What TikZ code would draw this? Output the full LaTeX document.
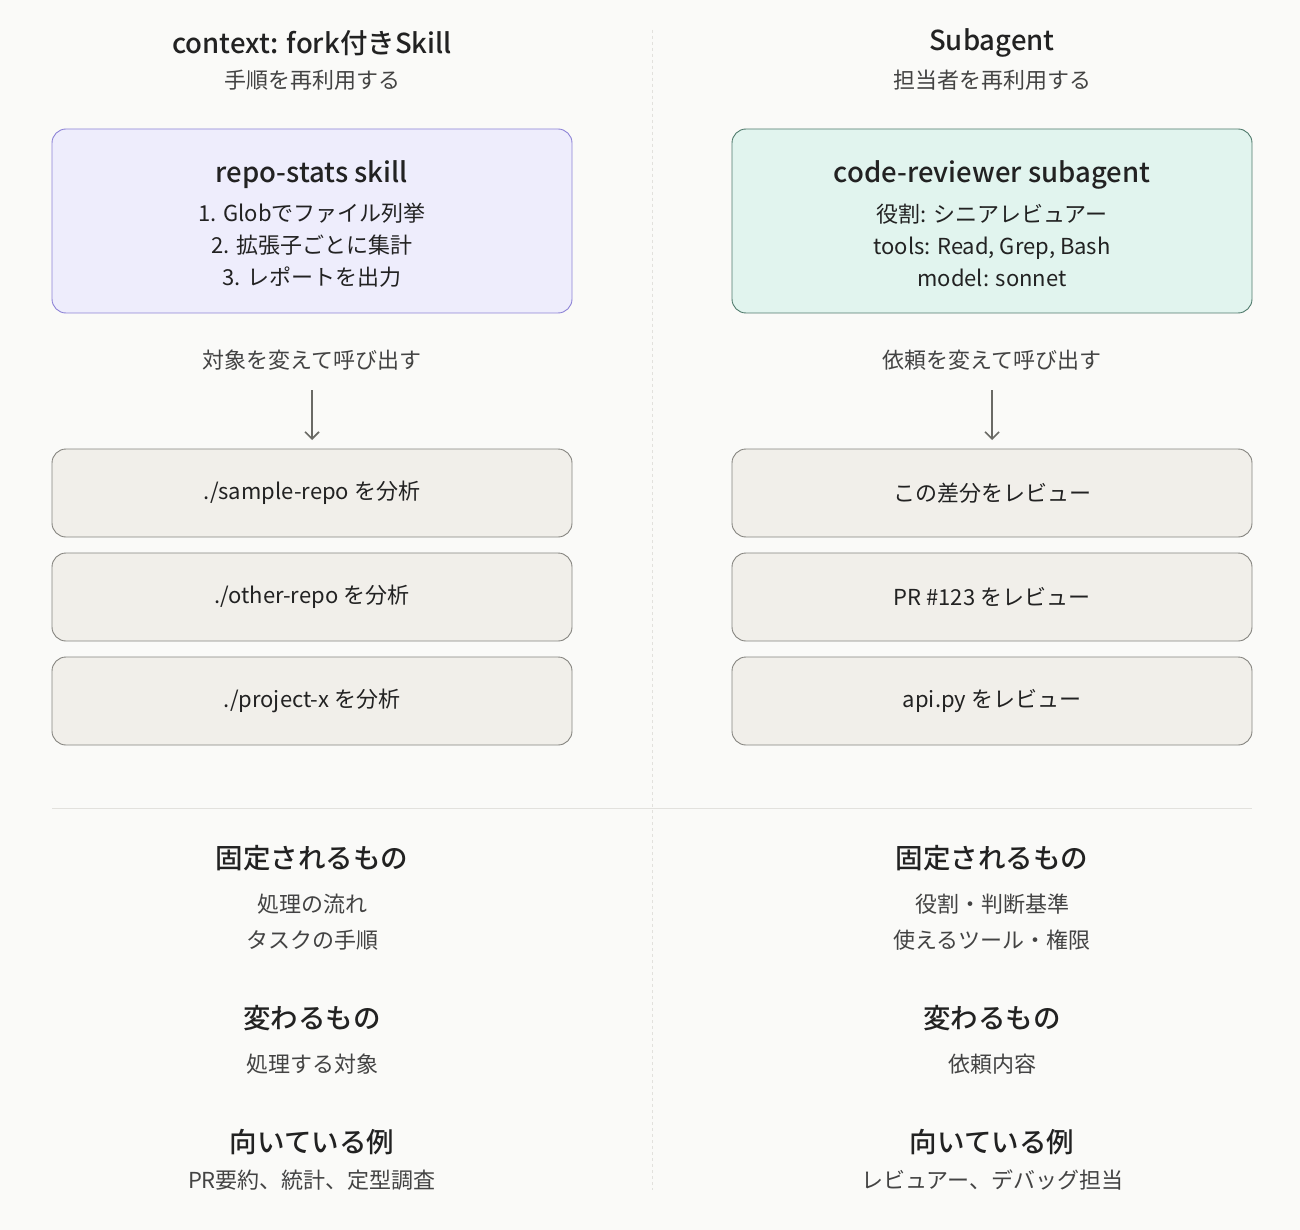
\documentclass[tikz,border=0pt]{standalone}
\usepackage{fontspec}
\setmainfont{Noto Sans CJK JP}
\newfontfamily\medfont{Noto Sans CJK JP Medium}
\usetikzlibrary{positioning,arrows.meta}
\definecolor{bg}{HTML}{FAFAF8}
\definecolor{skillfill}{HTML}{EEEDFC}
\definecolor{skillline}{HTML}{8C82D6}
\definecolor{agentfill}{HTML}{E1F4EE}
\definecolor{agentline}{HTML}{4F7A6C}
\definecolor{callfill}{HTML}{F1EFEA}
\definecolor{callline}{HTML}{85847F}
\definecolor{txt}{HTML}{222222}
\definecolor{sep}{HTML}{E2E1DD}
\tikzset{
  head/.style={font=\medfont\fontsize{27.5}{30}\selectfont, text=txt},
  sub/.style={font=\fontsize{22}{26}\selectfont, text=txt!85},
  box/.style={rounded corners=14pt, minimum width=520pt, line width=0.9pt},
  callbox/.style={box, draw=callline, fill=callfill, minimum height=88pt,
    font=\fontsize{22}{26}\selectfont, text=txt},
  inner/.style={align=center, font=\fontsize{22}{32}\selectfont, text=txt}
}
\begin{document}
\begin{tikzpicture}[x=1pt,y=-1pt]
    % background
    \fill[bg] (0,0) rectangle (1300,1230);
    \draw[sep, dashed, line width=0.8pt] (652,30) -- (652,1190);
    \draw[sep, line width=0.8pt] (52,808) -- (1252,808);

    % headers
    \node[head] (lh) at (312,43) {context: fork付きSkill};
    \node[sub] (ls) at (312,80) {手順を再利用する};
    \node[head] (rh) at (992,43) {Subagent};
    \node[sub] (rs) at (992,80) {担当者を再利用する};

    % main boxes
    \node[box, draw=skillline, fill=skillfill, minimum height=184pt] (skill) at (312,221) {};
    \node[head] at (312,175) {repo-stats skill};
    \node[inner] at (312,245) {1. Globでファイル列挙\\2. 拡張子ごとに集計\\3. レポートを出力};
    \node[box, draw=agentline, fill=agentfill, minimum height=184pt] (agent) at (992,221) {};
    \node[head] at (992,175) {code-reviewer subagent};
    \node[inner] at (992,245) {役割: シニアレビュアー\\tools: Read, Grep, Bash\\model: sonnet};

    % calls
    \node[sub] (lcall) at (312,360) {対象を変えて呼び出す};
    \node[sub] (rcall) at (992,360) {依頼を変えて呼び出す};
    \coordinate (la) at (312,390); \coordinate (lb) at (312,440);
    \coordinate (ra) at (992,390); \coordinate (rb) at (992,440);
    \draw[-{Straight Barb[length=7pt,width=14pt]}, line width=1.6pt, callline!80!black] (la) -- (lb);
    \draw[-{Straight Barb[length=7pt,width=14pt]}, line width=1.6pt, callline!80!black] (ra) -- (rb);

    \foreach \y/\t [count=\i] in {493/{./sample-repo を分析}, 597/{./other-repo を分析}, 701/{./project-x を分析}}
      \node[callbox] (l\i) at (312,\y) {\t};
    \foreach \y/\t [count=\i] in {493/この差分をレビュー, 597/PR \#123 をレビュー, 701/api.py をレビュー}
      \node[callbox] (r\i) at (992,\y) {\t};

    % summary
    \foreach \x/\a/\b/\c/\d/\e in {312/処理の流れ/タスクの手順/処理する対象/PR要約、統計、定型調査/l,
                                 992/役割・判断基準/使えるツール・権限/依頼内容/レビュアー、デバッグ担当/r} {
      \node[head] (\e fix) at (\x,858) {固定されるもの};
      \node[sub] at (\x,904) {\a};
      \node[sub] at (\x,940) {\b};
      \node[head] (\e var) at (\x,1018) {変わるもの};
      \node[sub] at (\x,1064) {\c};
      \node[head] (\e use) at (\x,1142) {向いている例};
      \node[sub] at (\x,1180) {\d};
    }
\end{tikzpicture}
\end{document}
